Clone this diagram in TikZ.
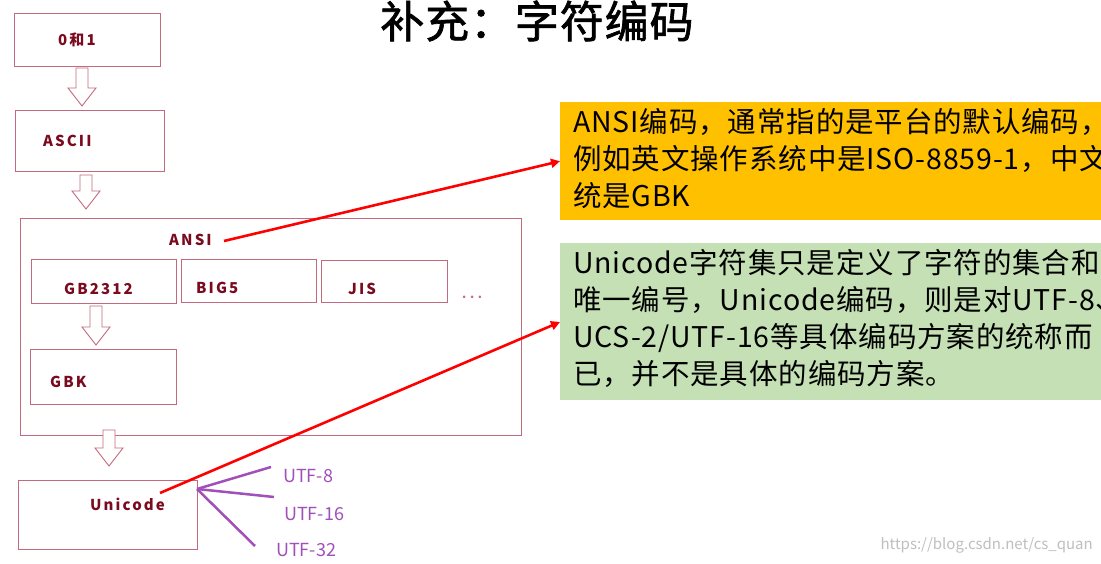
\documentclass[tikz,border=0pt]{standalone}
\usepackage{fontspec}
\setmainfont{Noto Sans CJK SC}
\usetikzlibrary{arrows.meta}
\definecolor{boxline}{HTML}{C46A7E}
\definecolor{lbl}{HTML}{7A0A1E}
\definecolor{purp}{HTML}{A050B8}
\definecolor{orng}{HTML}{FFC000}
\definecolor{grn}{HTML}{C5E0B4}
\tikzset{
  bx/.style={draw=boxline,line width=0.9pt,anchor=north west,inner sep=0pt},
  lb/.style={anchor=west,text=lbl,font=\bfseries\fontsize{15}{17}\selectfont\addfontfeatures{LetterSpace=14},inner sep=0pt},
  harrow/.style={draw=boxline,line width=0.9pt,fill=white,line join=miter},
  redl/.style={draw=red,line width=2.6pt,-{Triangle[length=9pt,width=9pt]}},
  purl/.style={draw=purp,line width=2.5pt},
  utf/.style={text=purp,font=\fontsize{18}{20}\selectfont,anchor=west,inner sep=0pt},
  note/.style={anchor=north west,align=left,inner sep=0pt,font=\fontsize{28.5}{37}\selectfont\addfontfeatures{LetterSpace=3}}
}
\newcommand{\harr}[3]{% x, ytop, ybot
  \path[harrow] (#1-6,#2) -- (#1+6,#2) -- (#1+6,#3-18) -- (#1+14,#3-18) -- (#1,#3) -- (#1-14,#3-18) -- (#1-6,#3-18) -- cycle;}
\begin{document}
\begin{tikzpicture}[x=1pt,y=-1pt]
\useasboundingbox[fill=white] (0,0) rectangle (1101,564);
% boxes
\node[bx,minimum width=146pt,minimum height=53pt] (b01) at (14,13) {};
\node[lb] (t01) at (58,40) {0和1};
\node[bx,minimum width=149pt,minimum height=61pt] (bascii) at (15,110) {};
\node[lb] (tascii) at (43,141) {ASCII};
\node[bx,minimum width=501pt,minimum height=217pt] (bansi) at (20,218) {};
\node[lb] (tansi) at (169,240) {ANSI};
\node[bx,minimum width=145pt,minimum height=44pt] (bgb) at (31,259) {};
\node[lb] (tgb) at (64,289) {GB2312};
\node[bx,minimum width=135pt,minimum height=43pt] (bbig) at (181,259) {};
\node[lb] (tbig) at (196,288) {BIG5};
\node[bx,minimum width=126pt,minimum height=42pt] (bjis) at (321,260) {};
\node[lb] (tjis) at (348,289) {JIS};
\node[lb,font=\bfseries\fontsize{12}{14}\selectfont,text=boxline] (dots) at (462,297) {. . .};
\node[bx,minimum width=146pt,minimum height=55pt] (bgbk) at (30,349) {};
\node[lb] (tgbk) at (50,382) {GBK};
\node[bx,minimum width=179pt,minimum height=69pt] (buni) at (18,480) {};
\node[lb] (tuni) at (90,504) {Unicode};
% hollow arrows
\harr{82}{68}{106}
\harr{86}{175}{209}
\harr{96}{306}{345}
\harr{109}{430}{466}
% utf
\coordinate (u0) at (197,489);
\node[utf] (u8) at (283,476) {UTF-8};
\node[utf] (u16) at (284,514) {UTF-16};
\node[utf] (u32) at (276,550) {UTF-32};
\draw[purl] (u0) -- (271,467);
\draw[purl] (u0) -- (274,497);
\draw[purl] (u0) -- (255,546);
% title
\node[font=\fontsize{44}{46}\selectfont\addfontfeatures{LetterSpace=2,FakeBold=1.5},inner sep=0pt] (title) at (537,21) {补充：字符编码};
% notes
\begin{scope}
\clip (560,102) rectangle (1101,220);
\node[fill=orng,anchor=north west,minimum width=560pt,minimum height=118pt,inner sep=0pt] (nansi) at (560,102) {};
\node[note] (tna) at (573,108) {ANSI编码，通常指的是平台的默认编码，\\例如英文操作系统中是ISO-8859-1，中文系\\统是GBK};
\end{scope}
\begin{scope}
\clip (560,243) rectangle (1101,400);
\node[fill=grn,anchor=north west,minimum width=560pt,minimum height=157pt,inner sep=0pt] (nuni) at (560,243) {};
\node[note] (tnu) at (573,249) {Unicode字符集只是定义了字符的集合和\\唯一编号，Unicode编码，则是对UTF-8、\\UCS-2/UTF-16等具体编码方案的统称而\\已，并不是具体的编码方案。};
\end{scope}
% red connectors
\coordinate (sa) at (224,241);
\coordinate (su) at (160,493);
\draw[redl] (sa) -- (nansi.west);
\draw[redl] (su) -- ([yshift=-79pt]nuni.north west);
% watermark
\node[text=black!25,font=\fontsize{15}{17}\selectfont,anchor=east,inner sep=0pt] (wm) at (1093,545) {https://blog.csdn.net/cs\_quan};
\end{tikzpicture}
\end{document}
